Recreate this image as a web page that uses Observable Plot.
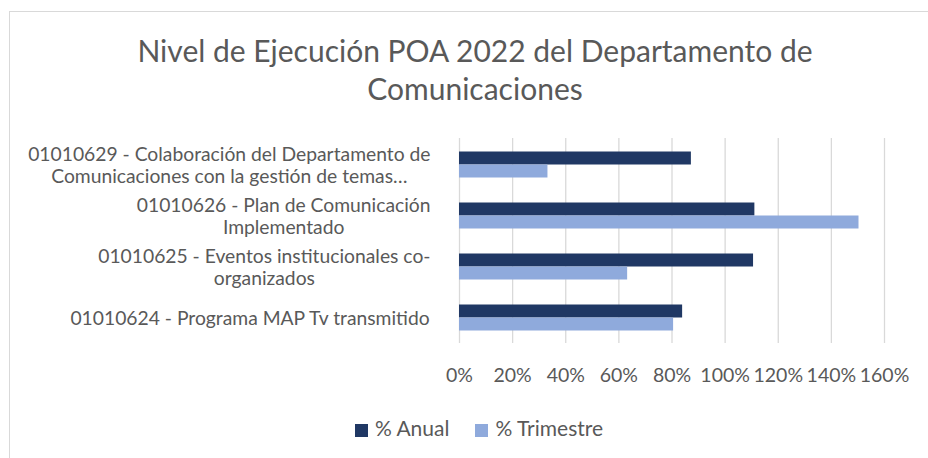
<!DOCTYPE html>
<html>
<head>
<meta charset="utf-8">
<script src="https://cdn.jsdelivr.net/npm/d3@7"></script>
<script src="https://cdn.jsdelivr.net/npm/@observablehq/plot@0.6"></script>
<style>
  html, body { margin: 0; padding: 0; background: #fff; }
  #wrap { position: relative; width: 928px; height: 458px; overflow: hidden; font-family: Lato, "Open Sans", sans-serif; color: #595959; }
  #frame { position: absolute; left: 9px; top: 11px; width: 940px; height: 470px; border-left: 1px solid #d9d9d9; border-top: 1px solid #d9d9d9; }
  #title { position: absolute; left: 9px; width: 932px; top: 31px; text-align: center; font-size: 30px; line-height: 38px; color: #595959; }
  #chart { position: absolute; left: 0; top: 0; }
  #legend { position: absolute; top: 415px; left: 0; width: 958px; display: flex; justify-content: center; gap: 26px; font-size: 21px; align-items: center; }
  .sw { display: inline-block; width: 13px; height: 13px; margin-right: 7px; vertical-align: -1px; }
</style>
</head>
<body>
<div id="wrap">
  <div id="frame"></div>
  <div id="chart"></div>
  <div id="title">Nivel de Ejecución POA 2022 del Departamento de<br>Comunicaciones</div>
  <div id="legend"></div>
</div>
<script>
const categories = [
  "01010629 - Colaboración del Departamento de\nComunicaciones con la gestión de temas…",
  "01010626 - Plan de Comunicación\nImplementado",
  "01010625 - Eventos institucionales co-\norganizados",
  "01010624 - Programa MAP Tv transmitido"
];
const anual = [0.873, 1.112, 1.107, 0.840];
const trimestre = [0.333, 1.504, 0.633, 0.806];
const seriesNames = ["% Anual", "% Trimestre"];
const seriesColors = ["#203864", "#8faadc"];
const xTicks = [0, 0.2, 0.4, 0.6, 0.8, 1.0, 1.2, 1.4, 1.6];

const rowsA = categories.map((c, i) => ({cat: c, value: anual[i]}));
const rowsT = categories.map((c, i) => ({cat: c, value: trimestre[i]}));

const labelFont = 19.3;
const ctx = document.createElement("canvas").getContext("2d");
ctx.font = `${labelFont}px Lato`;
const labelRows = categories.map(c => {
  const w = d3.max(c.split("\n"), s => ctx.measureText(s).width);
  return {cat: c, w};
});

const chart = Plot.plot({
  width: 928,
  height: 400,
  marginTop: 138,
  marginBottom: 57,
  marginLeft: 459,
  marginRight: 44,
  style: {fontFamily: "Lato, sans-serif", color: "#595959", background: "transparent"},
  x: {domain: [0, 1.6], ticks: xTicks, tickFormat: d3.format(".0%")},
  y: {domain: categories, paddingInner: 0.746, paddingOuter: 0.373, axis: null},
  marks: [
    Plot.gridX(xTicks, {stroke: "#d9d9d9", strokeOpacity: 1, strokeWidth: 1.3}),
    Plot.axisX({ticks: xTicks, tickFormat: d3.format(".0%"), tickSize: 0, tickPadding: 25, fontSize: 19.5, fill: "#595959", label: null}),
    Plot.barX(rowsA, {x: "value", y: "cat", fill: seriesColors[0], dy: -6.5}),
    Plot.barX(rowsT, {x: "value", y: "cat", fill: seriesColors[1], dy: 6.5}),
    Plot.text(labelRows, {
      y: "cat", text: "cat", frameAnchor: "left", textAnchor: "middle",
      fontSize: labelFont, fill: "#595959", lineHeight: 22 / labelFont
    })
  ]
});
// each label block is right-aligned next to the axis, with its lines centred
d3.select(chart).selectAll("g[aria-label=text] text").each(function(d, i) {
  const w = labelRows[i].w;
  const t = d3.select(this);
  const tr = t.attr("transform") || "";
  t.attr("transform", tr + ` translate(${-(29 + w / 2)},0)`);
});
document.getElementById("chart").appendChild(chart);

const legend = d3.select("#legend");
seriesNames.forEach((n, i) => {
  const item = legend.append("span");
  item.append("span").attr("class", "sw").style("background", seriesColors[i]);
  item.append("span").text(n);
});
</script>
</body>
</html>
